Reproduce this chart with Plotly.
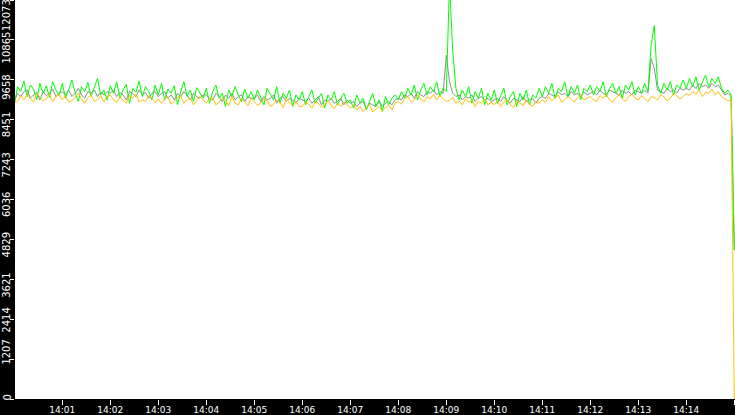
import pandas as pd
import plotly.graph_objects as go

# one sample every 4 s from 14:00:00, last sample at 14:15:00
green = [
    8900, 9450, 9300, 9620, 9150, 9500, 9380, 9050, 9550, 9250, 9480, 9120, 9600, 9350, 9200,
    9550, 9100, 9400, 9650, 9280, 9000, 9450, 9300, 9580, 9150, 9420, 9700, 9200, 9350, 9050,
    9480, 9250, 9600, 9100, 9350, 9520, 8950, 9400, 9280, 9620, 9150, 9450, 9300, 9050, 9500,
    9200, 9550, 9050, 9380, 9250, 9480, 8900, 9300, 9600, 9150, 9350, 9000, 9420, 9250, 9100,
    9400, 8950, 9300, 9500, 9100, 9250, 8850, 9350, 9150, 9450, 9200, 9000, 9380, 9100, 9300,
    9050, 9350, 9150, 8900, 9400, 9200, 9050, 9450, 8950, 9250, 9100, 9350, 8850, 9200, 9050,
    9300, 8900, 9150, 9350, 8950, 9100, 9250, 8800, 9200, 9050, 9300, 8900, 9100, 9250, 8950,
    9050, 8800, 9200, 8950, 9100, 8750, 9000, 9250, 8850, 9050, 8700, 9150, 8900, 9100, 9200,
    9050, 9300, 9100, 9400, 9200, 9500, 9050, 9350, 9550, 9200, 9450, 9300, 9600, 9150, 9400,
    9300, 12600, 10550, 9400, 9050, 9350, 9150, 9450, 8950, 9300, 9100, 9400, 8900, 9250, 9050,
    9350, 8950, 9200, 9400, 8900, 9150, 9300, 8850, 9250, 9050, 9350, 8900, 9200, 9100, 9400,
    9150, 9450, 9250, 9550, 9100, 9400, 9300, 9600, 9150, 9450, 9250, 9500, 9050, 9400, 9300,
    9500, 9200, 9450, 9300, 9600, 9150, 9400, 9550, 9250, 9450, 9100, 9500, 9350, 9600, 9200,
    9450, 9250, 9550, 9300, 10700, 11300, 9500, 9250, 9550, 9350, 9600, 9200, 9500, 9400, 9650,
    9400, 9700, 9450, 9750, 9350, 9600, 9800, 9450, 9700, 9550, 9750, 9400, 9250, 9350, 9200,
    4520,
]

gray = [
    9000, 9250, 9150, 9300, 9350, 9100, 9200, 9280, 9050, 9300, 9180, 9250, 9380, 9150, 9250,
    9300, 9200, 9350, 9150, 9250, 9400, 9200, 9100, 9300, 9250, 9350, 9150, 9280, 9200, 9300,
    9250, 9350, 9150, 9280, 9200, 9050, 9300, 9250, 9150, 9350, 9200, 9280, 9100, 9250, 9300,
    9150, 9250, 9300, 9100, 9200, 9050, 9250, 9150, 9300, 9200, 9050, 9250, 9150, 9100, 9200,
    9200, 9100, 9050, 9250, 9150, 9000, 9200, 9100, 9250, 9050, 9150, 9200, 9000, 9150, 9100,
    9100, 9200, 9000, 9150, 9050, 9100, 9200, 8950, 9100, 9150, 9000, 9100, 9050, 8950, 9100,
    9050, 9000, 9100, 8950, 9050, 9150, 8900, 9050, 9000, 9100, 8950, 9000, 9100, 8900, 9050,
    8950, 9000, 8850, 8950, 9000, 8800, 8950, 8900, 8850, 9000, 8850, 8950, 9000, 8900, 9050,
    9100, 9050, 9200, 9150, 9250, 9100, 9300, 9200, 9150, 9300, 9250, 9350, 9200, 9300, 9250,
    10400, 9600, 9250, 9150, 9200, 9050, 9150, 9100, 9200, 9000, 9100, 9150, 9050, 9100, 9000,
    9050, 9100, 9000, 9150, 9050, 8950, 9100, 9050, 9000, 9150, 9000, 9050, 9100, 8950, 9100,
    9150, 9100, 9250, 9200, 9150, 9300, 9200, 9250, 9150, 9300, 9200, 9250, 9150, 9300, 9200,
    9250, 9300, 9200, 9350, 9250, 9200, 9350, 9300, 9250, 9200, 9350, 9250, 9300, 9200, 9350,
    9300, 9250, 9350, 9250, 10300, 10000, 9350, 9300, 9250, 9400, 9300, 9350, 9250, 9400, 9350,
    9400, 9350, 9500, 9400, 9550, 9450, 9500, 9400, 9550, 9450, 9500, 9350, 9200, 9250, 9150,
    4500,
]

orange = [
    8950, 9000, 9180, 9050, 9220, 9100, 8980, 9250, 9120, 9020, 9080, 9230, 9000, 9150, 9200,
    9050, 9180, 8980, 9020, 9150, 9250, 9080, 8950, 9120, 9200, 9000, 9060, 9180, 8990, 9150,
    9200, 9050, 8980, 9150, 9030, 8950, 9180, 9100, 9220, 8990, 9050, 9000, 9180, 9120, 8970,
    9080, 8950, 9100, 9150, 8920, 9000, 9120, 9180, 8950, 9050, 9100, 8900, 9020, 9150, 9050,
    8950, 9080, 9120, 8900, 8980, 9100, 9050, 8870, 9150, 8950, 8900, 9080, 9000, 8880, 9100,
    9000, 8880, 8950, 9080, 9020, 8850, 8920, 9050, 8980, 8820, 9100, 8950, 8900, 9000, 8850,
    8850, 8980, 8920, 8800, 9000, 8950, 8820, 8880, 9020, 8900, 8780, 8950, 8850, 9000, 8900,
    8800, 8900, 8750, 8850, 8700, 8820, 8900, 8680, 8780, 8850, 8720, 8800, 8900, 8750, 8950,
    9000, 8920, 9080, 9150, 8980, 9050, 9200, 9100, 8980, 9150, 9080, 9220, 9050, 9180, 9100,
    9000, 9050, 9120, 8950, 9020, 8900, 9080, 8980, 9050, 8850, 9000, 8950, 9080, 8900, 8980,
    8900, 9020, 8850, 8980, 9050, 8900, 8820, 9000, 8950, 8880, 9050, 8920, 8850, 9000, 8950,
    9050, 8980, 9150, 9020, 9100, 9200, 8980, 9050, 9150, 9080, 8980, 9120, 9200, 9050, 9100,
    9150, 9050, 9000, 9180, 9100, 9220, 9050, 8980, 9120, 9200, 9080, 9000, 9150, 9220, 9100,
    9050, 9180, 9100, 9000, 9150, 9120, 9050, 9200, 9150, 9020, 9100, 9250, 9180, 9080, 9150,
    9250, 9180, 9300, 9220, 9350, 9150, 9280, 9250, 9380, 9200, 9300, 9150, 9080, 9020, 9050,
    0,
]

y_max = 12073
y_tick_labels = ["0", "1207", "2414", "3621", "4829", "6036",
                 "7243", "8451", "9658", "10865", "12073"]

times = pd.date_range("2024-01-01 14:00:00", periods=len(green), freq="4s")
y_ticks = [y_max * i / 10 for i in range(len(y_tick_labels))]

fig = go.Figure()
for vals, col in [(gray, "#8c8c8c"), (green, "#00ff00"), (orange, "#ffc000")]:
    fig.add_trace(go.Scatter(x=times, y=vals, mode="lines",
                             line=dict(color=col, width=1),
                             hoverinfo="skip"))

# y labels are drawn as rotated annotations so each can sit like in the original
label_nudge = [-1, -7, 1, 6, 5.5, 5, 5.5, 5, 7.5, 8, 15.5]
for v, txt, dy in zip(y_ticks, y_tick_labels, label_nudge):
    fig.add_annotation(x=0, xref="paper", y=v, yref="y", text=txt,
                       textangle=-90, showarrow=False,
                       xanchor="center", yanchor="middle",
                       xshift=-8.5, yshift=-dy,
                       font=dict(family="DejaVu Sans", size=10, color="white"))

fig.update_layout(
    width=735, height=415,
    margin=dict(l=15, r=0, t=0, b=16),
    paper_bgcolor="black", plot_bgcolor="white",
    showlegend=False,
    font=dict(family="DejaVu Sans", size=9, color="white"),
)
fig.update_xaxes(
    type="date",
    range=["2024-01-01 14:00:00.875", "2024-01-01 14:15:00.875"],
    tick0="2024-01-01 14:00:00", dtick=60000, tickformat="%H:%M",
    ticks="outside", ticklen=5, tickcolor="white", tickwidth=1,
    ticklabelstandoff=-3,
    showgrid=False, zeroline=False, showline=False, automargin=False,
)
fig.update_yaxes(
    range=[0, y_max],
    tickvals=y_ticks, showticklabels=False,
    ticks="outside", ticklen=4, tickcolor="white", tickwidth=1,
    showgrid=False, zeroline=False, showline=False, automargin=False,
)

fig.write_html("out.html", config={"displayModeBar": False},
               post_script="document.body.style.margin='0';")
